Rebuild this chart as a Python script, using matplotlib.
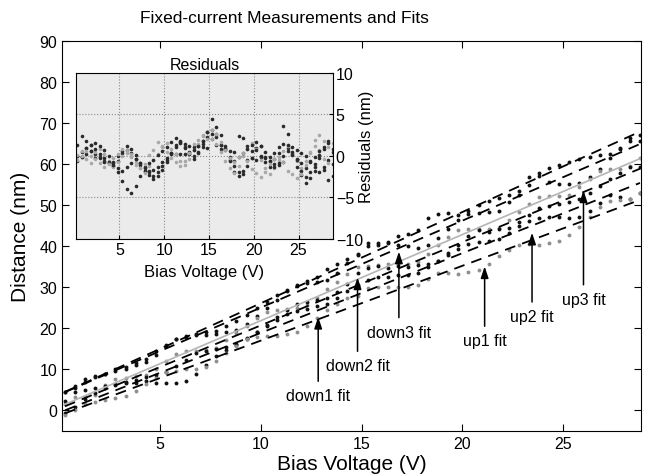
import matplotlib
matplotlib.use('Agg')
import matplotlib.pyplot as plt
import numpy as np

plt.rcParams['font.family'] = ['Liberation Sans', 'DejaVu Sans']

# bias voltage sweep (V)
bias = [0.3, 0.8, 1.3, 1.8, 2.3, 2.8, 3.3, 3.8, 4.3, 4.8, 5.3, 5.8, 6.3, 6.8, 7.3, 7.8,
        8.3, 8.8, 9.3, 9.8, 10.3, 10.8, 11.3, 11.8, 12.3, 12.8, 13.3, 13.8, 14.3, 14.8,
        15.3, 15.8, 16.3, 16.8, 17.3, 17.8, 18.3, 18.8, 19.3, 19.8, 20.3, 20.8, 21.3, 21.8,
        22.3, 22.8, 23.3, 23.8, 24.3, 24.8, 25.3, 25.8, 26.3, 26.8, 27.3, 27.8, 28.3, 28.8]

# measured distance (nm), one list per sweep
down3 = [4.5, 5.5, 7.0, 8.5, 8.8, 10.0, 10.5, 11.5, 12.6, 14.5, 16.0, 17.5, 18.2, 18.6, 19.0, 19.4,
         20.5, 21.8, 23.2, 25.0, 26.5, 28.2, 29.3, 30.3, 31.5, 32.6, 34.5, 35.8, 36.8, 37.8,
         40.0, 40.3, 41.0, 42.4, 43.0, 44.0, 47.0, 47.8, 48.0, 47.7, 48.5, 50.0, 51.0, 51.8,
         52.5, 53.5, 55.0, 57.8, 59.0, 59.8, 60.5, 61.2, 61.7, 62.2, 62.6, 64.0, 66.3, 67.0]
down2 = [4.5, 6.0, 7.6, 8.2, 9.0, 9.5, 10.2, 11.0, 11.8, 13.4, 15.7, 17.3, 18.0, 18.4, 18.5, 18.6,
         19.1, 19.7, 21.1, 22.9, 24.9, 27.0, 29.1, 30.5, 31.0, 31.3, 31.7, 33.5, 36.0, 38.1,
         40.7, 40.8, 40.9, 40.4, 40.0, 39.6, 40.2, 41.9, 44.3, 46.4, 47.8, 48.0, 48.3, 48.7,
         50.8, 52.5, 56.9, 57.0, 55.6, 55.1, 55.2, 55.3, 56.9, 58.9, 61.5, 63.6, 65.6, 65.7]
up3 = [1.6, 3.2, 3.3, 3.8, 6.2, 7.6, 8.0, 8.3, 8.6, 10.2, 12.0, 13.8, 14.4, 14.4, 14.8, 15.2,
       17.1, 18.9, 20.7, 22.5, 24.1, 24.4, 24.8, 25.0, 25.6, 27.4, 29.5, 31.3, 33.3, 34.9,
       35.1, 35.5, 35.6, 35.6, 35.7, 36.2, 38.1, 40.4, 42.2, 44.0, 44.3, 44.1, 44.2, 44.5,
       46.3, 48.3, 50.4, 52.0, 52.3, 52.3, 52.6, 54.4, 56.5, 58.3, 58.9, 58.9, 59.5, 61.6]
down1 = [2.4, 4.4, 4.9, 5.4, 5.9, 6.4, 6.9, 7.4, 8.1, 8.7, 9.4, 10.9, 12.4, 13.9, 14.4, 14.9,
         15.4, 15.9, 17.4, 19.1, 20.9, 22.7, 24.4, 25.9, 26.4, 26.9, 27.4, 28.9, 30.9, 33.4,
         34.6, 35.1, 34.8, 35.3, 35.0, 35.4, 35.6, 36.4, 38.4, 40.4, 42.4, 43.9, 43.6, 44.1,
         44.4, 45.9, 47.7, 49.4, 49.9, 50.4, 50.9, 51.4, 53.1, 54.7, 56.4, 57.9, 59.4, 59.4]
up2 = [-0.6, 0.9, 2.9, 4.3, 5.5, 6.1, 6.6, 6.8, 7.1, 6.8, 6.7, 6.7, 7.2, 9.0, 11.2, 13.2,
       14.7, 16.1, 17.6, 19.1, 20.6, 22.1, 23.6, 24.2, 24.8, 25.5, 26.0, 27.5, 29.0, 30.5,
       31.9, 32.4, 32.4, 32.9, 32.9, 33.4, 34.9, 36.3, 37.8, 39.3, 40.6, 41.1, 41.3, 41.7,
       43.2, 44.9, 46.2, 47.0, 47.2, 47.2, 46.8, 47.1, 48.6, 50.6, 52.6, 52.1, 51.6, 53.0]
up1 = [-1.2, 0.2, 1.7, 2.1, 2.6, 3.0, 3.5, 4.7, 6.4, 7.8, 9.3, 9.7, 10.2, 10.1, 10.6, 12.0,
       14.0, 15.6, 17.4, 17.8, 18.1, 18.2, 18.7, 19.1, 20.6, 22.5, 24.5, 25.9, 27.4, 27.8,
       29.8, 30.2, 30.2, 30.1, 30.1, 30.5, 32.0, 33.4, 33.4, 33.3, 33.8, 34.2, 35.7, 37.6,
       39.1, 40.2, 40.5, 40.4, 40.9, 41.3, 42.8, 44.7, 47.2, 49.6, 51.1, 51.3, 51.5, 52.9]

sweeps = [down3, down2, up3, down1, up2, up1]
dot_colors = ['#111111', '#111111', '#8f8f8f', '#111111', '#111111', '#8f8f8f']
res_colors = ['#2a2a2a', '#2a2a2a', '#a8a8a8', '#2a2a2a', '#2a2a2a', '#a8a8a8']
fit_styles = ['--', '--', '-', '--', '--', '--']
fit_colors = ['k', 'k', '#b5b5b5', 'k', 'k', 'k']

# arrow labels: voltage, text height and arrow tip height
fit_labels = ['down1 fit', 'down2 fit', 'down3 fit', 'up1 fit', 'up2 fit', 'up3 fit']
label_v = [12.85, 14.8, 16.85, 21.1, 23.45, 26.0]
label_y = [3.6, 10.9, 19.1, 17.0, 22.9, 27.1]
tip_y = [22.8, 32.4, 38.7, 35.1, 43.3, 53.6]

V = np.array(bias)

fig = plt.figure(figsize=(6.47, 4.77), dpi=100)
ax = fig.add_axes([0.0958, 0.0943, 0.8949, 0.8176])

residuals = []
for s, dc, ls, fc in zip(sweeps, dot_colors, fit_styles, fit_colors):
  s = np.array(s)
  p = np.polyfit(V, s, 1)
  ax.plot(V, s, 'o', ms=2.8, mew=0, color=dc, zorder=2)
  if ls == '-':
    ax.plot(V, np.polyval(p, V), ls, color=fc, lw=1.2, zorder=3)
  else:
    ax.plot(V, np.polyval(p, V), ls, color=fc, lw=1.3, dashes=(6, 4), zorder=3)
  residuals.append(s - np.polyval(p, V))

for lab, lv, ly, ty in zip(fit_labels, label_v, label_y, tip_y):
  ax.annotate(lab, xy=(lv, ty), xytext=(lv, ly), ha='center', va='center', fontsize=11.5,
              arrowprops=dict(arrowstyle='-|>,head_length=0.6,head_width=0.2',
                              color='k', lw=1.1, shrinkA=3, shrinkB=0))

ax.set_xlim(0.15, 28.85)
ax.set_ylim(-5, 90)
ax.set_xticks([5, 10, 15, 20, 25])
ax.set_yticks(range(0, 91, 10))
ax.tick_params(direction='in', top=True, right=True, length=5, labelsize=11.5)
ax.set_xlabel('Bias Voltage (V)', fontsize=15)
ax.xaxis.set_label_coords(0.5, -0.058)
ax.set_ylabel('Distance (nm)', fontsize=15)
ax.yaxis.set_label_coords(-0.055, 0.5)
fig.text(0.439, 0.962, 'Fixed-current Measurements and Fits', ha='center', va='center', fontsize=12.5)

# residuals inset
axi = fig.add_axes([0.1175, 0.4969, 0.3972, 0.348])
axi.set_facecolor('#ebebeb')
for r, rc in zip(residuals, res_colors):
  axi.plot(V, r, 'o', ms=2.6, mew=0, color=rc)
axi.set_xlim(0.15, 28.85)
axi.set_ylim(-10, 10)
axi.set_xticks([5, 10, 15, 20, 25])
axi.set_yticks([-10, -5, 0, 5, 10])
axi.grid(True, linestyle=':', color='#888888', lw=0.8)
axi.yaxis.tick_right()
axi.yaxis.set_label_position('right')
axi.tick_params(direction='in', length=3, labelsize=11.5, pad=2)
axi.set_title('Residuals', fontsize=11.5, pad=3)
axi.set_xlabel('Bias Voltage (V)', fontsize=12)
axi.xaxis.set_label_coords(0.5, -0.15)
axi.set_ylabel('Residuals (nm)', fontsize=12)
axi.yaxis.set_label_coords(1.10, 0.56)

plt.savefig('out.png')
